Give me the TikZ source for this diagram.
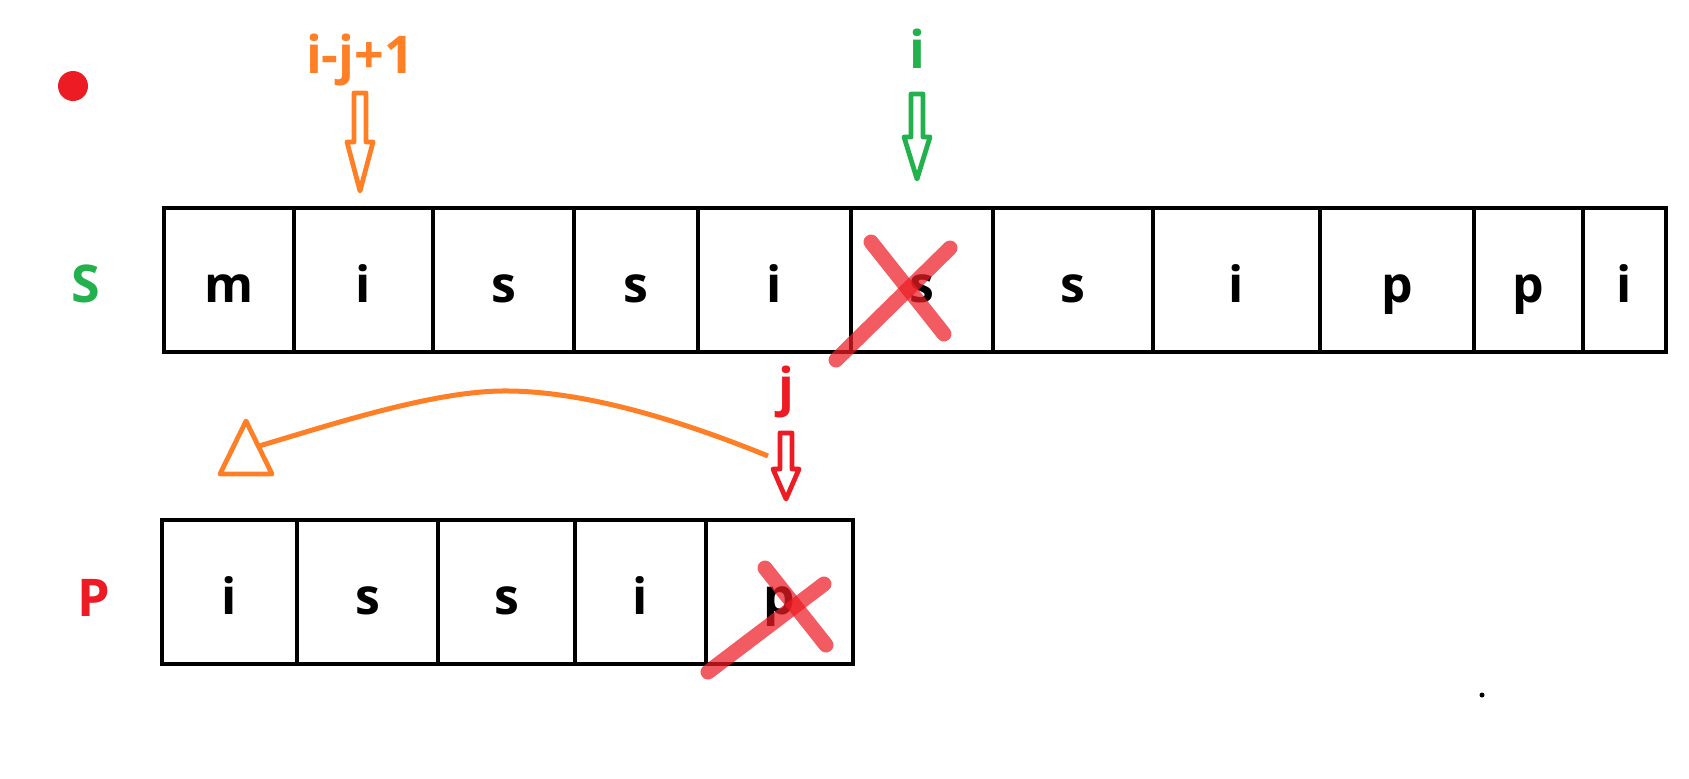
\documentclass[tikz,border=0pt]{standalone}
\usepackage{fontspec}
\setmainfont{Open Sans}
\definecolor{paintorange}{HTML}{FF7F27}
\definecolor{paintgreen}{HTML}{22B14C}
\definecolor{paintred}{HTML}{ED1C24}
% hollow block arrow pointing down: x, top, head, tip, colour
\newcommand{\blockdown}[5]{%
  \draw[hollow, #5] (#1-6,#2) -- (#1+6,#2) -- (#1+6,#3) -- (#1+13,#3) -- (#1,#4)
    -- (#1-13,#3) -- (#1-6,#3) -- cycle;}
\begin{document}
\begin{tikzpicture}[x=0.5pt, y=-0.5pt,
  cellbox/.style={draw, line width=2.25pt, minimum width=#1, minimum height=72pt, inner sep=0pt,
    text height=22pt, text depth=0pt, font=\fontsize{25}{30}\selectfont\bfseries},
  lbl/.style={anchor=base, inner sep=0pt, font=\fontsize{26}{30}\selectfont\bfseries},
  hollow/.style={line width=2.4pt, line join=round},
  cross/.style={paintred, opacity=0.72, line width=7.5pt, line cap=round}
]
\useasboundingbox (0,0) rectangle (1689,778);
\fill[paintred] (73,86) circle (15);
\fill (1482,695) circle (2.5);
% text S
\node[lbl, paintgreen] (slabel) at (86,302) {S};
\node[cellbox=65pt] (s1) at (229,280) {m};
\node[cellbox=69.5pt] (s2) at (363.5,280) {i};
\node[cellbox=70.5pt] (s3) at (503.5,280) {s};
\node[cellbox=62pt] (s4) at (636,280) {s};
\node[cellbox=76.5pt] (s5) at (774.5,280) {i};
\node[cellbox=71pt] (s6) at (922,280) {s};
\node[cellbox=80pt] (s7) at (1073,280) {s};
\node[cellbox=83.5pt] (s8) at (1236.5,280) {i};
\node[cellbox=77pt] (s9) at (1397,280) {p};
\node[cellbox=54.5pt] (s10) at (1528.5,280) {p};
\node[cellbox=41.5pt] (s11) at (1624.5,280) {i};
% pattern P
\node[lbl, paintred] (plabel) at (94,616) {P};
\node[cellbox=67.5pt] (p1) at (229.5,592) {i};
\node[cellbox=70.5pt] (p2) at (367.5,592) {s};
\node[cellbox=68.5pt] (p3) at (506.5,592) {s};
\node[cellbox=65.5pt] (p4) at (640.5,592) {i};
\node[cellbox=73.5pt] (p5) at (779.5,592) {p};
% pointers
\node[lbl, paintorange] (start) at (360,73) {i-j+1};
\blockdown{360}{93}{142}{191}{paintorange}
\node[lbl, paintgreen] (ipos) at (917,68) {i};
\blockdown{917}{94}{137}{179}{paintgreen}
\node[lbl, paintred] (jpos) at (786,405) {j};
\blockdown{786}{433}{469}{499}{paintred}
% mismatch
\draw[cross] (871,242) -- (944,334);
\draw[cross] (950,248) -- (836,360);
\draw[cross] (765,568) -- (826,645);
\draw[cross] (824,584) -- (708,672);
% move back
\coordinate (jtail) at (768,456);
\coordinate (triside) at (259,446);
\draw[hollow, paintorange] (246,421) -- (272,474) -- (220,474) -- cycle;
\draw[paintorange, line width=2.5pt] (jtail) .. controls (660,412) and (570,390) .. (501,391)
  .. controls (430,392) and (330,425) .. (triside);
\end{tikzpicture}
\end{document}
